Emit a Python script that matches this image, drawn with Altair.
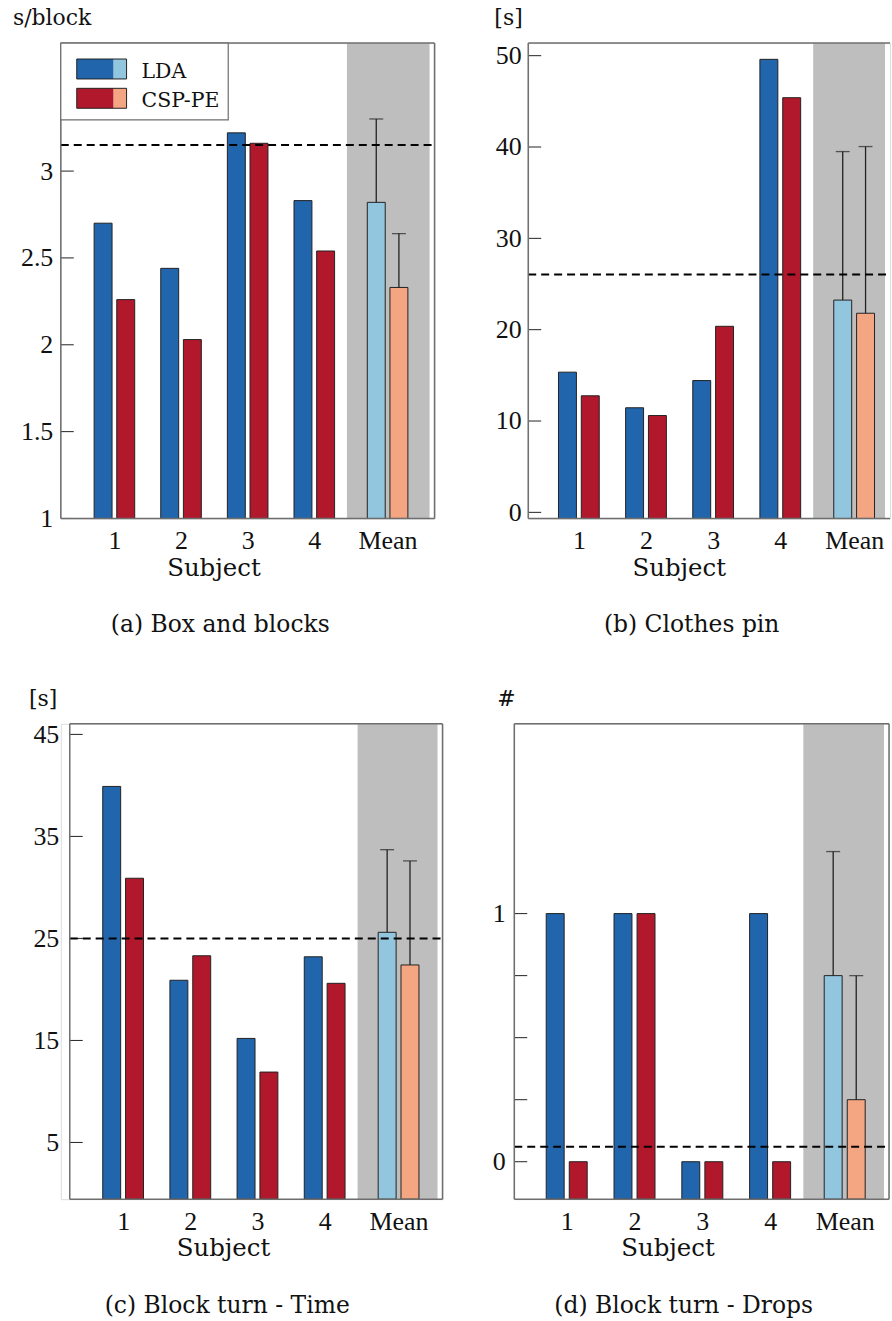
import altair as alt
import pandas as pd

TICKFONT = "Liberation Serif"
WORDFONT = "DejaVu Serif"
TXT = "#111111"
FRAME = "#6e6e6e"

subjects = ["1", "2", "3", "4", "Mean"]
x_pos = [1, 2, 3, 4, 5.1]
methods = ["LDA", "CSP-PE"]
mean_start = 4.49

# (a) Box and blocks
lda_a = [2.70, 2.44, 3.22, 2.83, 2.82]
csp_a = [2.26, 2.03, 3.16, 2.54, 2.33]
std_a = [0.48, 0.31]
ref_a = 3.15
# (b) Clothes pin
lda_b = [15.35, 11.45, 14.43, 49.6, 23.24]
csp_b = [12.76, 10.6, 20.37, 45.4, 21.8]
std_b = [16.26, 18.25]
ref_b = 26.05
# (c) Block turn - Time
lda_c = [39.9, 20.9, 15.2, 23.2, 25.6]
csp_c = [30.9, 23.3, 11.9, 20.6, 22.4]
std_c = [8.1, 10.2]
ref_c = 25.0
# (d) Block turn - Drops
lda_d = [1, 1, 0, 1, 0.75]
csp_d = [0, 1, 0, 0, 0.25]
std_d = [0.5, 0.5]
ref_d = 0.06

color_keys = ["LDA", "CSP-PE", "LDA mean", "CSP-PE mean"]
color_vals = ["#2166ac", "#b2182b", "#92c5de", "#f4a582"]


def one(**kw):
    return pd.DataFrame({k: [v] for k, v in kw.items()})


def panel(lda, csp, std, ref, ydom, yticks, xdom, w, h, unit, unit_x, caption,
          cap_x, label_pad=8, ylabel_expr=None, legend=False, open_right=False,
          left_extent=None, inset=0):
    rows = []
    for i, s in enumerate(subjects):
        for m, vals in (("LDA", lda), ("CSP-PE", csp)):
            rows.append(dict(subject=s, pos=x_pos[i], method=m, value=vals[i],
                             key=m if s != "Mean" else m + " mean"))
    bars_df = pd.DataFrame(rows)
    err_df = pd.DataFrame({
        "method": methods,
        "pos": [x_pos[4]] * 2,
        "mean": [lda[4], csp[4]],
        "top": [lda[4] + std[0], csp[4] + std[1]],
    })
    x0, x1 = inset, inset + w
    xscale = alt.Scale(domain=xdom, range=[x0, x1], nice=False, zero=False)
    yscale = alt.Scale(domain=ydom, nice=False, zero=False)
    offset = "datum.pos + (datum.method == 'LDA' ? -0.17 : 0.17)"
    tx = x0 + (2.5 - xdom[0]) / (xdom[1] - xdom[0]) * w

    x_axis = alt.Axis(
        values=x_pos, format=".4~g",
        labelExpr="datum.value > 4.5 ? 'Mean' : datum.label",
        title="Subject", titleX=tx, titleY=57, titleBaseline="alphabetic",
        titleAlign="center", titleFont=WORDFONT, titleFontSize=24.5,
        titleFontWeight="normal", titleColor=TXT,
        domain=False, ticks=False, tickSize=0, grid=False,
        labelFont=TICKFONT, labelFontSize=26, labelColor=TXT, labelPadding=30,
        labelBaseline="alphabetic", labelAngle=0, labelFlush=False,
        labelOverlap=False,
    )
    yargs = dict(
        values=yticks, title="", domain=False, ticks=False, tickSize=0,
        grid=False, labelFont=TICKFONT, labelFontSize=26, labelColor=TXT,
        labelPadding=label_pad, format=".4~g", labelOverlap=False,
        labelFlush=False, offset=-inset,
    )
    if ylabel_expr:
        yargs["labelExpr"] = ylabel_expr
    y_axis = alt.Axis(**yargs)

    def X(f):
        return alt.X(f, scale=xscale, axis=x_axis)

    def Y(f):
        return alt.Y(f, scale=yscale, axis=y_axis)

    grey = alt.Chart(one(start=mean_start, end=xdom[1])).mark_rect(
        color="#bebebe").encode(
        x=X("start:Q"), x2="end:Q", y=alt.value(0), y2=alt.value(h))

    ticks = alt.Chart(pd.DataFrame({"t": yticks})).mark_rule(
        color="#222222", strokeWidth=1).encode(
        y=Y("t:Q"), x=alt.value(x0), x2=alt.value(x0 + 13))

    bars = alt.Chart(bars_df).transform_calculate(xb=offset).mark_bar(
        size=18, stroke="#222222", strokeWidth=1).encode(
        x=X("xb:Q"), y=Y("value:Q"), y2=alt.datum(ydom[0]),
        color=alt.Color("key:N", scale=alt.Scale(domain=color_keys,
                                                 range=color_vals),
                        legend=None))

    err = alt.Chart(err_df).transform_calculate(xb=offset).mark_rule(
        color="#222222", strokeWidth=1.3).encode(
        x=X("xb:Q"), y=Y("mean:Q"), y2="top:Q")
    caps = alt.Chart(err_df).transform_calculate(xb=offset).mark_tick(
        orient="horizontal", size=14, thickness=1.3, color="#222222").encode(
        x=X("xb:Q"), y=Y("top:Q"))

    dash = alt.Chart(one(ref=ref)).mark_rule(
        color="black", strokeWidth=2, strokeDash=[8, 5]).encode(
        y=Y("ref:Q"), x=alt.value(x0), x2=alt.value(x1))

    fr = alt.Chart(one(a=1))
    frame = [
        fr.mark_rule(color=FRAME, strokeWidth=1.5).encode(
            x=alt.value(x0), x2=alt.value(x1), y=alt.value(0)),
        fr.mark_rule(color=FRAME, strokeWidth=1.5).encode(
            x=alt.value(x0), x2=alt.value(x1), y=alt.value(h)),
        fr.mark_rule(color=FRAME, strokeWidth=1.5).encode(
            x=alt.value(x0), y=alt.value(0), y2=alt.value(h)),
    ]
    if not open_right:
        frame.append(fr.mark_rule(color=FRAME, strokeWidth=1.5).encode(
            x=alt.value(x1), y=alt.value(0), y2=alt.value(h)))

    unit_t = alt.Chart(one(t=unit)).mark_text(
        align="left", baseline="alphabetic", font=WORDFONT, fontSize=22,
        color=TXT).encode(text="t:N", x=alt.value(x0 + unit_x),
                          y=alt.value(-18))
    cap_t = alt.Chart(one(t=caption)).mark_text(
        align="center", baseline="alphabetic", font=WORDFONT, fontSize=23.5,
        color=TXT).encode(text="t:N", x=alt.value(x0 + cap_x),
                          y=alt.value(h + 114))

    layers = [grey, ticks, bars, err, caps, dash] + frame + [unit_t, cap_t]

    if legend:
        leg_df = pd.DataFrame({"method": methods})
        layers.append(alt.Chart(one(a=1)).mark_rect(
            fill="white", stroke=FRAME, strokeWidth=1.2).encode(
            x=alt.value(x0), x2=alt.value(x0 + 168), y=alt.value(0),
            y2=alt.value(77)))
        for i, m in enumerate(methods):
            sub = alt.Chart(leg_df).transform_filter(alt.datum.method == m)
            y0 = 16 + 29.4 * i
            layers.append(sub.mark_rect(color=color_vals[i]).encode(
                x=alt.value(x0 + 16), x2=alt.value(x0 + 53), y=alt.value(y0),
                y2=alt.value(y0 + 20)))
            layers.append(sub.mark_rect(color=color_vals[i + 2]).encode(
                x=alt.value(x0 + 53), x2=alt.value(x0 + 66), y=alt.value(y0),
                y2=alt.value(y0 + 20)))
            layers.append(sub.mark_rect(
                fill=None, fillOpacity=0, stroke="#222222",
                strokeWidth=1).encode(
                x=alt.value(x0 + 16), x2=alt.value(x0 + 66), y=alt.value(y0),
                y2=alt.value(y0 + 20)))
            layers.append(sub.mark_text(
                align="left", baseline="alphabetic", font=WORDFONT,
                fontSize=20.5, color=TXT).encode(
                text="method:N", x=alt.value(x0 + 81), y=alt.value(y0 + 19)))

    if left_extent is not None:
        layers.append(alt.Chart(one(a=1)).mark_rule(
            color="white", strokeOpacity=0).encode(
            x=alt.value(left_extent), y=alt.value(0), y2=alt.value(1)))

    return alt.layer(*layers).properties(width=w + inset, height=h)


pa = panel(lda_a, csp_a, std_a, ref_a, [1, 3.737], [1, 1.5, 2, 2.5, 3],
           [0.27, 5.73], 375, 477, "s/block", -48, "(a) Box and blocks", 160,
           label_pad=8, legend=True)
pb = panel(lda_b, csp_b, std_b, ref_b, [-0.67, 51.38], [0, 10, 20, 30, 40, 50],
           [0.32, 5.56], 363, 477, "[s]", -34, "(b) Clothes pin", 164,
           label_pad=7, open_right=True, left_extent=-35)
pc = panel(lda_c, csp_c, std_c, ref_c, [-0.56, 46.04], [5, 15, 25, 35, 45],
           [0.28, 5.68], 374, 477, "[s]", -41, "(c) Block turn - Time", 158,
           label_pad=11, inset=9)
pd_ = panel(lda_d, csp_d, std_d, ref_d, [-0.151, 1.765],
            [0, 0.25, 0.5, 0.75, 1], [0.30, 5.68], 376, 477, "#", -17,
            "(d) Block turn - Drops", 170, label_pad=9, left_extent=-26,
            ylabel_expr="(datum.value == 0 || datum.value == 1) ? datum.label : ''")

row1 = alt.hconcat(pa, pb, spacing=56)
row2 = alt.hconcat(pc, pd_, spacing=43)
chart = alt.vconcat(row1, row2, spacing=50).properties(
    padding={"left": 12, "top": 4, "right": 0, "bottom": 0}
).configure_view(stroke=None, strokeWidth=0).configure(
    font=WORDFONT, background="white")

chart.save("out.html", embed_options={"renderer": "svg", "actions": False})
